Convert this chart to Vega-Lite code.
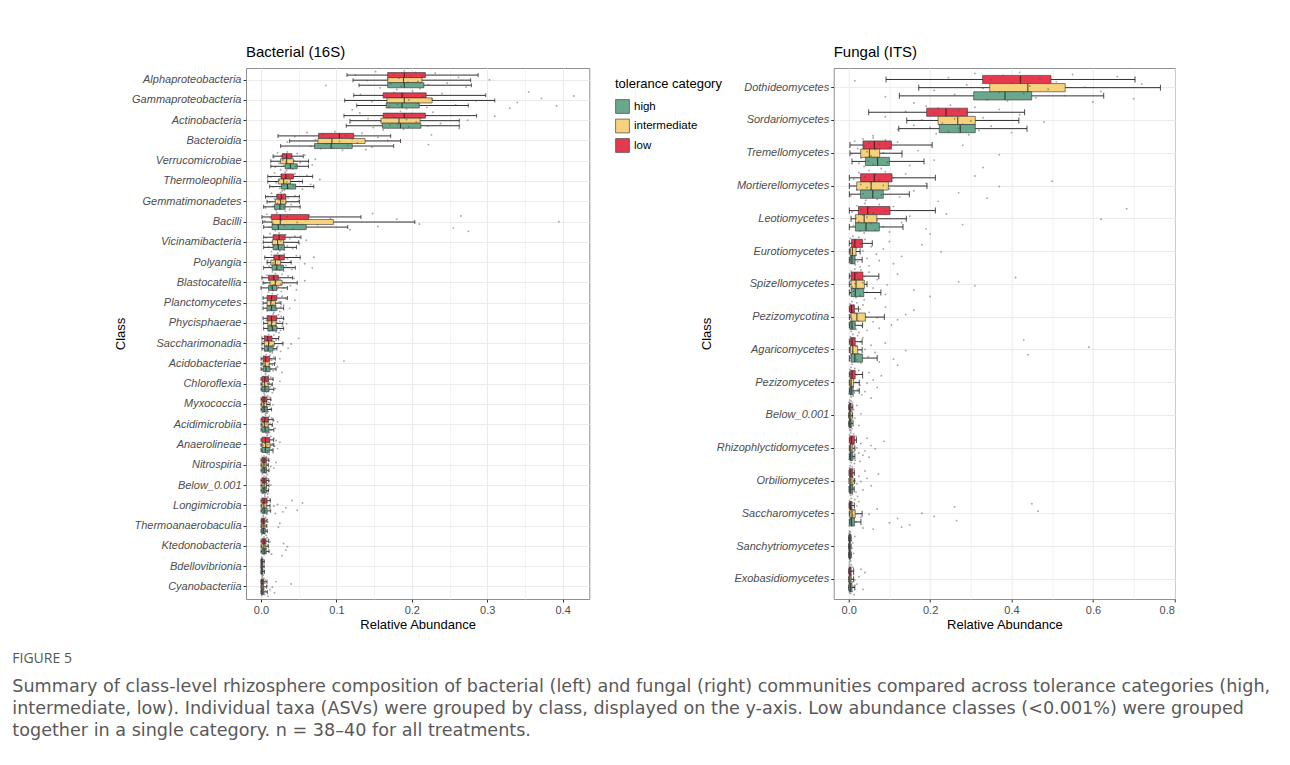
{
  "$schema": "https://vega.github.io/schema/vega-lite/v6.json",
  "background": "white",
  "padding": {"left": 12, "top": 44, "right": 5, "bottom": 5},
  "bounds": "flush",
  "spacing": 243.7,
  "resolve": {"scale": {"color": "independent"}},
  "config": {
    "font": "Liberation Sans",
    "view": {"stroke": "#8f8f8f", "strokeWidth": 1},
    "axis": {"gridColor": "#ebebeb", "gridWidth": 1, "domain": false, "tickColor": "#333", "tickSize": 3, "labelColor": "#4d4d4d", "labelFontSize": 11, "labelPadding": 2, "titleFontSize": 13, "titleFontWeight": "normal", "titleColor": "#000"},
    "title": {"fontSize": 15, "fontWeight": "normal", "anchor": "start", "color": "#000", "offset": 8}
  },
  "title": {
    "text": "FIGURE 5",
    "subtitle": [
      "Summary of class-level rhizosphere composition of bacterial (left) and fungal (right) communities compared across tolerance categories (high,",
      "intermediate, low). Individual taxa (ASVs) were grouped by class, displayed on the y-axis. Low abundance classes (<0.001%) were grouped",
      "together in a single category. n = 38–40 for all treatments."
    ],
    "orient": "bottom", "anchor": "start", "frame": "group", "dx": -233.7, "offset": 20,
    "font": "Open Sans", "fontSize": 14, "fontWeight": "normal", "color": "#555",
    "subtitleFont": "DejaVu Sans", "subtitleFontSize": 17.6, "subtitleColor": "#595959", "subtitleLineHeight": 22, "subtitlePadding": 12
  },
  "datasets": {
    "bs": [
      {"c":"Alphaproteobacteria","t":"low","lo":0.114,"q1":0.168,"md":0.19,"q3":0.218,"hi":0.288},
      {"c":"Alphaproteobacteria","t":"intermediate","lo":0.122,"q1":0.168,"md":0.189,"q3":0.2135,"hi":0.278},
      {"c":"Alphaproteobacteria","t":"high","lo":0.13,"q1":0.168,"md":0.19,"q3":0.216,"hi":0.279},
      {"c":"Gammaproteobacteria","t":"low","lo":0.123,"q1":0.162,"md":0.187,"q3":0.219,"hi":0.298},
      {"c":"Gammaproteobacteria","t":"intermediate","lo":0.111,"q1":0.167,"md":0.19,"q3":0.227,"hi":0.31},
      {"c":"Gammaproteobacteria","t":"high","lo":0.127,"q1":0.166,"md":0.187,"q3":0.21,"hi":0.275},
      {"c":"Actinobacteria","t":"low","lo":0.11,"q1":0.162,"md":0.19,"q3":0.218,"hi":0.286},
      {"c":"Actinobacteria","t":"intermediate","lo":0.118,"q1":0.159,"md":0.183,"q3":0.211,"hi":0.263},
      {"c":"Actinobacteria","t":"high","lo":0.113,"q1":0.161,"md":0.185,"q3":0.212,"hi":0.263},
      {"c":"Bacteroidia","t":"low","lo":0.0225,"q1":0.0764,"md":0.104,"q3":0.123,"hi":0.172},
      {"c":"Bacteroidia","t":"intermediate","lo":0.038,"q1":0.0755,"md":0.094,"q3":0.138,"hi":0.185},
      {"c":"Bacteroidia","t":"high","lo":0.026,"q1":0.071,"md":0.093,"q3":0.121,"hi":0.176},
      {"c":"Verrucomicrobiae","t":"low","lo":0.016,"q1":0.028,"md":0.034,"q3":0.041,"hi":0.056},
      {"c":"Verrucomicrobiae","t":"intermediate","lo":0.013,"q1":0.026,"md":0.034,"q3":0.043,"hi":0.063},
      {"c":"Verrucomicrobiae","t":"high","lo":0.013,"q1":0.032,"md":0.039,"q3":0.048,"hi":0.063},
      {"c":"Thermoleophilia","t":"low","lo":0.009,"q1":0.0265,"md":0.033,"q3":0.043,"hi":0.0685},
      {"c":"Thermoleophilia","t":"intermediate","lo":0.009,"q1":0.023,"md":0.03,"q3":0.039,"hi":0.055},
      {"c":"Thermoleophilia","t":"high","lo":0.0115,"q1":0.027,"md":0.035,"q3":0.046,"hi":0.07},
      {"c":"Gemmatimonadetes","t":"low","lo":0.006,"q1":0.021,"md":0.027,"q3":0.033,"hi":0.051},
      {"c":"Gemmatimonadetes","t":"intermediate","lo":0.008,"q1":0.019,"md":0.026,"q3":0.033,"hi":0.051},
      {"c":"Gemmatimonadetes","t":"high","lo":0.0035,"q1":0.018,"md":0.025,"q3":0.032,"hi":0.052},
      {"c":"Bacilli","t":"low","lo":0.0013,"q1":0.0137,"md":0.0256,"q3":0.0632,"hi":0.1326},
      {"c":"Bacilli","t":"intermediate","lo":0.0022,"q1":0.0146,"md":0.0256,"q3":0.096,"hi":0.204},
      {"c":"Bacilli","t":"high","lo":0.0035,"q1":0.0146,"md":0.023,"q3":0.06,"hi":0.115},
      {"c":"Vicinamibacteria","t":"low","lo":0.0035,"q1":0.016,"md":0.024,"q3":0.032,"hi":0.053},
      {"c":"Vicinamibacteria","t":"intermediate","lo":0.003,"q1":0.015,"md":0.022,"q3":0.03,"hi":0.05},
      {"c":"Vicinamibacteria","t":"high","lo":0.0035,"q1":0.016,"md":0.023,"q3":0.031,"hi":0.047},
      {"c":"Polyangia","t":"low","lo":0.005,"q1":0.017,"md":0.024,"q3":0.031,"hi":0.052},
      {"c":"Polyangia","t":"intermediate","lo":0.008,"q1":0.013,"md":0.019,"q3":0.026,"hi":0.04},
      {"c":"Polyangia","t":"high","lo":0.0035,"q1":0.0146,"md":0.021,"q3":0.03,"hi":0.0455},
      {"c":"Blastocatellia","t":"low","lo":0.0013,"q1":0.01,"md":0.017,"q3":0.023,"hi":0.042},
      {"c":"Blastocatellia","t":"intermediate","lo":0.0027,"q1":0.012,"md":0.019,"q3":0.028,"hi":0.048},
      {"c":"Blastocatellia","t":"high","lo":0.0,"q1":0.01,"md":0.015,"q3":0.021,"hi":0.035},
      {"c":"Planctomycetes","t":"low","lo":0.0027,"q1":0.008,"md":0.014,"q3":0.021,"hi":0.035},
      {"c":"Planctomycetes","t":"intermediate","lo":0.0027,"q1":0.008,"md":0.013,"q3":0.019,"hi":0.0265},
      {"c":"Planctomycetes","t":"high","lo":0.0027,"q1":0.008,"md":0.014,"q3":0.02,"hi":0.03},
      {"c":"Phycisphaerae","t":"low","lo":0.0027,"q1":0.008,"md":0.014,"q3":0.021,"hi":0.03},
      {"c":"Phycisphaerae","t":"intermediate","lo":0.0035,"q1":0.009,"md":0.014,"q3":0.02,"hi":0.029},
      {"c":"Phycisphaerae","t":"high","lo":0.0035,"q1":0.009,"md":0.015,"q3":0.021,"hi":0.03},
      {"c":"Saccharimonadia","t":"low","lo":0.0013,"q1":0.0044,"md":0.009,"q3":0.0146,"hi":0.0234},
      {"c":"Saccharimonadia","t":"intermediate","lo":0.0013,"q1":0.0044,"md":0.01,"q3":0.0177,"hi":0.029},
      {"c":"Saccharimonadia","t":"high","lo":0.0013,"q1":0.0044,"md":0.0095,"q3":0.016,"hi":0.021},
      {"c":"Acidobacteriae","t":"low","lo":0.0,"q1":0.0027,"md":0.006,"q3":0.0115,"hi":0.019},
      {"c":"Acidobacteriae","t":"intermediate","lo":0.0,"q1":0.0025,"md":0.0055,"q3":0.011,"hi":0.018},
      {"c":"Acidobacteriae","t":"high","lo":0.0,"q1":0.003,"md":0.0065,"q3":0.012,"hi":0.02},
      {"c":"Chloroflexia","t":"low","lo":0.0,"q1":0.0013,"md":0.005,"q3":0.01,"hi":0.016},
      {"c":"Chloroflexia","t":"intermediate","lo":0.0,"q1":0.0015,"md":0.0048,"q3":0.0095,"hi":0.015},
      {"c":"Chloroflexia","t":"high","lo":0.0,"q1":0.0013,"md":0.0052,"q3":0.0105,"hi":0.017},
      {"c":"Myxococcia","t":"low","lo":0.0,"q1":0.0013,"md":0.004,"q3":0.008,"hi":0.013},
      {"c":"Myxococcia","t":"intermediate","lo":0.0,"q1":0.0012,"md":0.0038,"q3":0.0075,"hi":0.012},
      {"c":"Myxococcia","t":"high","lo":0.0,"q1":0.0014,"md":0.0042,"q3":0.0085,"hi":0.014},
      {"c":"Acidimicrobiia","t":"low","lo":0.0,"q1":0.0013,"md":0.005,"q3":0.01,"hi":0.016},
      {"c":"Acidimicrobiia","t":"intermediate","lo":0.0,"q1":0.0012,"md":0.0045,"q3":0.0095,"hi":0.015},
      {"c":"Acidimicrobiia","t":"high","lo":0.0,"q1":0.0015,"md":0.0055,"q3":0.0105,"hi":0.017},
      {"c":"Anaerolineae","t":"low","lo":0.0,"q1":0.0013,"md":0.006,"q3":0.0115,"hi":0.0168},
      {"c":"Anaerolineae","t":"intermediate","lo":0.0,"q1":0.0015,"md":0.0062,"q3":0.012,"hi":0.017},
      {"c":"Anaerolineae","t":"high","lo":0.0,"q1":0.0013,"md":0.0058,"q3":0.011,"hi":0.016},
      {"c":"Nitrospiria","t":"low","lo":0.0,"q1":0.0013,"md":0.004,"q3":0.0071,"hi":0.0102},
      {"c":"Nitrospiria","t":"intermediate","lo":0.0,"q1":0.0012,"md":0.0038,"q3":0.0068,"hi":0.0098},
      {"c":"Nitrospiria","t":"high","lo":0.0,"q1":0.0014,"md":0.0042,"q3":0.0074,"hi":0.0106},
      {"c":"Below_0.001","t":"low","lo":0.0,"q1":0.0013,"md":0.004,"q3":0.0071,"hi":0.0102},
      {"c":"Below_0.001","t":"intermediate","lo":0.0,"q1":0.0014,"md":0.0041,"q3":0.0073,"hi":0.0105},
      {"c":"Below_0.001","t":"high","lo":0.0,"q1":0.0012,"md":0.0039,"q3":0.007,"hi":0.01},
      {"c":"Longimicrobia","t":"low","lo":0.0,"q1":0.0013,"md":0.004,"q3":0.008,"hi":0.0124},
      {"c":"Longimicrobia","t":"intermediate","lo":0.0,"q1":0.0012,"md":0.0038,"q3":0.0076,"hi":0.012},
      {"c":"Longimicrobia","t":"high","lo":0.0,"q1":0.0014,"md":0.0042,"q3":0.0082,"hi":0.0128},
      {"c":"Thermoanaerobaculia","t":"low","lo":0.0,"q1":0.0009,"md":0.003,"q3":0.0053,"hi":0.008},
      {"c":"Thermoanaerobaculia","t":"intermediate","lo":0.0,"q1":0.0008,"md":0.0028,"q3":0.005,"hi":0.0077},
      {"c":"Thermoanaerobaculia","t":"high","lo":0.0,"q1":0.001,"md":0.0031,"q3":0.0055,"hi":0.0083},
      {"c":"Ktedonobacteria","t":"low","lo":0.0,"q1":0.0013,"md":0.004,"q3":0.0066,"hi":0.0102},
      {"c":"Ktedonobacteria","t":"intermediate","lo":0.0,"q1":0.0012,"md":0.0038,"q3":0.0063,"hi":0.0098},
      {"c":"Ktedonobacteria","t":"high","lo":0.0,"q1":0.0014,"md":0.0042,"q3":0.0069,"hi":0.0106},
      {"c":"Bdellovibrionia","t":"low","lo":0.0,"q1":0.0002,"md":0.001,"q3":0.0022,"hi":0.0044},
      {"c":"Bdellovibrionia","t":"intermediate","lo":0.0,"q1":0.0002,"md":0.0009,"q3":0.002,"hi":0.0042},
      {"c":"Bdellovibrionia","t":"high","lo":0.0,"q1":0.0003,"md":0.0011,"q3":0.0024,"hi":0.0046},
      {"c":"Cyanobacteriia","t":"low","lo":0.0,"q1":0.0002,"md":0.0015,"q3":0.0035,"hi":0.008},
      {"c":"Cyanobacteriia","t":"intermediate","lo":0.0,"q1":0.0002,"md":0.0014,"q3":0.0033,"hi":0.0076},
      {"c":"Cyanobacteriia","t":"high","lo":0.0,"q1":0.0003,"md":0.0016,"q3":0.0037,"hi":0.0084}
    ],
    "bp": [
      {"c":"Alphaproteobacteria","v":[0.19,0.152,0.205,0.231,0.176,0.125,0.214,0.199,0.262,0.183,0.168,0.303,0.141,0.208,0.195,0.247,0.172,0.222,0.086,0.186,0.272,0.158,0.211,0.18]},
      {"c":"Gammaproteobacteria","v":[0.201,0.355,0.176,0.24,0.132,0.188,0.415,0.215,0.163,0.372,0.227,0.196,0.285,0.147,0.34,0.208,0.181,0.258,0.392,0.17,0.22,0.33,0.193,0.121]},
      {"c":"Actinobacteria","v":[0.185,0.228,0.131,0.2,0.167,0.252,0.31,0.176,0.212,0.142,0.193,0.274,0.159,0.206,0.118,0.238,0.181,0.171,0.221,0.196,0.149,0.263,0.189,0.162]},
      {"c":"Bacteroidia","v":[0.098,0.061,0.134,0.082,0.226,0.112,0.045,0.155,0.091,0.121,0.072,0.168,0.104,0.035,0.128,0.087,0.222,0.115,0.066,0.147,0.095,0.079,0.139,0.108]},
      {"c":"Verrucomicrobiae","v":[0.035,0.022,0.048,0.031,0.058,0.027,0.041,0.017,0.038,0.072,0.029,0.044,0.033,0.052,0.024,0.039,0.068,0.03,0.046,0.019,0.036,0.042,0.026,0.034]},
      {"c":"Thermoleophilia","v":[0.032,0.018,0.045,0.027,0.061,0.036,0.013,0.041,0.029,0.078,0.024,0.05,0.034,0.02,0.039,0.066,0.03,0.043,0.016,0.037,0.025,0.055,0.031,0.028]},
      {"c":"Gemmatimonadetes","v":[0.026,0.014,0.031,0.021,0.045,0.009,0.028,0.036,0.018,0.024,0.05,0.029,0.012,0.033,0.022,0.04,0.027,0.016,0.03,0.006,0.025,0.038,0.02,0.032]},
      {"c":"Bacilli","v":[0.021,0.148,0.008,0.064,0.265,0.035,0.012,0.092,0.18,0.027,0.005,0.395,0.048,0.016,0.21,0.075,0.031,0.155,0.011,0.255,0.042,0.118,0.019,0.275]},
      {"c":"Vicinamibacteria","v":[0.024,0.012,0.033,0.019,0.045,0.028,0.007,0.038,0.021,0.06,0.026,0.015,0.03,0.051,0.022,0.017,0.035,0.01,0.027,0.042,0.02,0.031,0.025,0.014]},
      {"c":"Polyangia","v":[0.022,0.031,0.014,0.047,0.026,0.07,0.018,0.035,0.024,0.009,0.039,0.028,0.016,0.058,0.021,0.033,0.011,0.027,0.068,0.02,0.041,0.025,0.03,0.015]},
      {"c":"Blastocatellia","v":[0.019,0.028,0.008,0.036,0.022,0.015,0.044,0.025,0.011,0.058,0.02,0.031,0.005,0.026,0.017,0.039,0.023,0.013,0.03,0.021,0.047,0.016,0.027,0.01]},
      {"c":"Planctomycetes","v":[0.015,0.022,0.009,0.028,0.017,0.012,0.033,0.019,0.045,0.014,0.024,0.006,0.02,0.016,0.03,0.011,0.026,0.018,0.038,0.013,0.021,0.008,0.025,0.017]},
      {"c":"Phycisphaerae","v":[0.016,0.023,0.01,0.027,0.018,0.013,0.03,0.02,0.007,0.025,0.015,0.021,0.034,0.012,0.019,0.028,0.014,0.022,0.009,0.017,0.026,0.011,0.02,0.024]},
      {"c":"Saccharimonadia","v":[0.01,0.017,0.005,0.024,0.012,0.05,0.008,0.02,0.014,0.003,0.029,0.011,0.04,0.016,0.007,0.022,0.013,0.036,0.009,0.018,0.006,0.026,0.012,0.015]},
      {"c":"Acidobacteriae","v":[0.007,0.012,0.004,0.017,0.009,0.025,0.006,0.014,0.11,0.008,0.019,0.003,0.011,0.015,0.005,0.022,0.01,0.007,0.013,0.002,0.016,0.009,0.028,0.006]},
      {"c":"Chloroflexia","v":[0.006,0.01,0.003,0.013,0.008,0.005,0.016,0.007,0.025,0.004,0.011,0.009,0.002,0.014,0.006,0.012,0.005,0.019,0.008,0.003,0.01,0.007,0.015,0.004]},
      {"c":"Myxococcia","v":[0.005,0.009,0.003,0.011,0.006,0.004,0.013,0.007,0.002,0.01,0.005,0.008,0.016,0.004,0.009,0.006,0.003,0.012,0.007,0.005,0.01,0.002,0.008,0.006]},
      {"c":"Acidimicrobiia","v":[0.006,0.011,0.003,0.014,0.008,0.005,0.017,0.009,0.022,0.004,0.012,0.007,0.002,0.015,0.006,0.01,0.019,0.005,0.013,0.008,0.003,0.011,0.007,0.009]},
      {"c":"Anaerolineae","v":[0.008,0.013,0.004,0.017,0.01,0.006,0.02,0.011,0.025,0.005,0.015,0.009,0.003,0.018,0.007,0.012,0.022,0.006,0.014,0.009,0.002,0.016,0.008,0.011]},
      {"c":"Nitrospiria","v":[0.004,0.007,0.002,0.009,0.005,0.003,0.011,0.006,0.02,0.004,0.008,0.005,0.002,0.013,0.006,0.017,0.003,0.007,0.005,0.01,0.004,0.006,0.002,0.008]},
      {"c":"Below_0.001","v":[0.004,0.007,0.002,0.009,0.005,0.003,0.011,0.006,0.004,0.008,0.005,0.013,0.002,0.007,0.006,0.003,0.01,0.005,0.004,0.008,0.006,0.002,0.009,0.005]},
      {"c":"Longimicrobia","v":[0.005,0.009,0.002,0.012,0.006,0.041,0.004,0.008,0.055,0.003,0.022,0.007,0.017,0.005,0.033,0.011,0.002,0.048,0.006,0.029,0.004,0.019,0.008,0.003]},
      {"c":"Thermoanaerobaculia","v":[0.003,0.006,0.001,0.008,0.004,0.002,0.009,0.005,0.025,0.003,0.007,0.004,0.001,0.023,0.005,0.002,0.006,0.003,0.008,0.004,0.002,0.005,0.001,0.007]},
      {"c":"Ktedonobacteria","v":[0.004,0.008,0.002,0.01,0.005,0.003,0.012,0.006,0.03,0.004,0.009,0.005,0.035,0.002,0.007,0.005,0.033,0.003,0.011,0.006,0.002,0.014,0.004,0.028]},
      {"c":"Bdellovibrionia","v":[0.001,0.002,0.0005,0.003,0.0015,0.001,0.004,0.002,0.0008,0.0025,0.001,0.0018,0.0035,0.0006,0.0012,0.0022,0.0009,0.0028,0.0014,0.0004,0.0019,0.001,0.0031,0.0016]},
      {"c":"Cyanobacteriia","v":[0.002,0.004,0.001,0.006,0.003,0.02,0.002,0.005,0.04,0.001,0.008,0.003,0.015,0.002,0.004,0.012,0.001,0.006,0.003,0.018,0.002,0.005,0.001,0.009]}
    ],
    "fs": [
      {"c":"Dothideomycetes","t":"low","lo":0.0917,"q1":0.329,"md":0.422,"q3":0.497,"hi":0.7035},
      {"c":"Dothideomycetes","t":"intermediate","lo":0.172,"q1":0.3465,"md":0.44,"q3":0.532,"hi":0.766},
      {"c":"Dothideomycetes","t":"high","lo":0.1245,"q1":0.307,"md":0.384,"q3":0.4496,"hi":0.6265},
      {"c":"Sordariomycetes","t":"low","lo":0.049,"q1":0.1915,"md":0.239,"q3":0.292,"hi":0.432},
      {"c":"Sordariomycetes","t":"intermediate","lo":0.1425,"q1":0.2195,"md":0.268,"q3":0.311,"hi":0.418},
      {"c":"Sordariomycetes","t":"high","lo":0.123,"q1":0.2225,"md":0.274,"q3":0.311,"hi":0.438},
      {"c":"Tremellomycetes","t":"low","lo":0.003,"q1":0.035,"md":0.063,"q3":0.105,"hi":0.205},
      {"c":"Tremellomycetes","t":"intermediate","lo":0.003,"q1":0.0294,"md":0.051,"q3":0.076,"hi":0.131},
      {"c":"Tremellomycetes","t":"high","lo":0.008,"q1":0.041,"md":0.071,"q3":0.1,"hi":0.185},
      {"c":"Mortierellomycetes","t":"low","lo":0.0016,"q1":0.029,"md":0.063,"q3":0.1065,"hi":0.213},
      {"c":"Mortierellomycetes","t":"intermediate","lo":0.0016,"q1":0.0196,"md":0.055,"q3":0.0974,"hi":0.1924},
      {"c":"Mortierellomycetes","t":"high","lo":0.0016,"q1":0.029,"md":0.059,"q3":0.085,"hi":0.149},
      {"c":"Leotiomycetes","t":"low","lo":0.0016,"q1":0.0237,"md":0.0466,"q3":0.1015,"hi":0.213},
      {"c":"Leotiomycetes","t":"intermediate","lo":0.0057,"q1":0.0164,"md":0.038,"q3":0.069,"hi":0.1416},
      {"c":"Leotiomycetes","t":"high","lo":0.0016,"q1":0.0164,"md":0.0425,"q3":0.0753,"hi":0.1334},
      {"c":"Eurotiomycetes","t":"low","lo":0.0016,"q1":0.007,"md":0.015,"q3":0.034,"hi":0.058},
      {"c":"Eurotiomycetes","t":"intermediate","lo":0.0016,"q1":0.004,"md":0.009,"q3":0.018,"hi":0.028},
      {"c":"Eurotiomycetes","t":"high","lo":0.0016,"q1":0.004,"md":0.008,"q3":0.0156,"hi":0.033},
      {"c":"Spizellomycetes","t":"low","lo":0.0016,"q1":0.0057,"md":0.015,"q3":0.035,"hi":0.074},
      {"c":"Spizellomycetes","t":"intermediate","lo":0.0016,"q1":0.0057,"md":0.018,"q3":0.0385,"hi":0.045},
      {"c":"Spizellomycetes","t":"high","lo":0.0016,"q1":0.0057,"md":0.016,"q3":0.037,"hi":0.079},
      {"c":"Pezizomycotina","t":"low","lo":0.0016,"q1":0.003,"md":0.007,"q3":0.014,"hi":0.024},
      {"c":"Pezizomycotina","t":"intermediate","lo":0.0016,"q1":0.0057,"md":0.02,"q3":0.041,"hi":0.0876},
      {"c":"Pezizomycotina","t":"high","lo":0.0016,"q1":0.003,"md":0.008,"q3":0.016,"hi":0.034},
      {"c":"Agaricomycetes","t":"low","lo":0.0016,"q1":0.004,"md":0.008,"q3":0.016,"hi":0.033},
      {"c":"Agaricomycetes","t":"intermediate","lo":0.0016,"q1":0.004,"md":0.01,"q3":0.022,"hi":0.033},
      {"c":"Agaricomycetes","t":"high","lo":0.0016,"q1":0.0057,"md":0.015,"q3":0.034,"hi":0.07},
      {"c":"Pezizomycetes","t":"low","lo":0.0016,"q1":0.004,"md":0.008,"q3":0.016,"hi":0.034},
      {"c":"Pezizomycetes","t":"intermediate","lo":0.0016,"q1":0.003,"md":0.006,"q3":0.012,"hi":0.026},
      {"c":"Pezizomycetes","t":"high","lo":0.0016,"q1":0.003,"md":0.006,"q3":0.011,"hi":0.026},
      {"c":"Below_0.001","t":"low","lo":0.0,"q1":0.0016,"md":0.003,"q3":0.006,"hi":0.01},
      {"c":"Below_0.001","t":"intermediate","lo":0.0,"q1":0.0015,"md":0.0028,"q3":0.0058,"hi":0.0095},
      {"c":"Below_0.001","t":"high","lo":0.0,"q1":0.0017,"md":0.0032,"q3":0.0062,"hi":0.0105},
      {"c":"Rhizophlyctidomycetes","t":"low","lo":0.0016,"q1":0.003,"md":0.007,"q3":0.014,"hi":0.019},
      {"c":"Rhizophlyctidomycetes","t":"intermediate","lo":0.0016,"q1":0.003,"md":0.005,"q3":0.01,"hi":0.015},
      {"c":"Rhizophlyctidomycetes","t":"high","lo":0.0016,"q1":0.003,"md":0.005,"q3":0.01,"hi":0.015},
      {"c":"Orbiliomycetes","t":"low","lo":0.0008,"q1":0.002,"md":0.005,"q3":0.01,"hi":0.014},
      {"c":"Orbiliomycetes","t":"intermediate","lo":0.0008,"q1":0.0022,"md":0.0052,"q3":0.0105,"hi":0.0145},
      {"c":"Orbiliomycetes","t":"high","lo":0.0008,"q1":0.0019,"md":0.0048,"q3":0.0095,"hi":0.0135},
      {"c":"Saccharomycetes","t":"low","lo":0.0008,"q1":0.002,"md":0.004,"q3":0.008,"hi":0.014},
      {"c":"Saccharomycetes","t":"intermediate","lo":0.0016,"q1":0.003,"md":0.008,"q3":0.016,"hi":0.033},
      {"c":"Saccharomycetes","t":"high","lo":0.0016,"q1":0.003,"md":0.007,"q3":0.014,"hi":0.03},
      {"c":"Sanchytriomycetes","t":"low","lo":0.0,"q1":0.001,"md":0.002,"q3":0.004,"hi":0.006},
      {"c":"Sanchytriomycetes","t":"intermediate","lo":0.0,"q1":0.0009,"md":0.0019,"q3":0.0038,"hi":0.0057},
      {"c":"Sanchytriomycetes","t":"high","lo":0.0,"q1":0.0011,"md":0.0021,"q3":0.0042,"hi":0.0063},
      {"c":"Exobasidiomycetes","t":"low","lo":0.0,"q1":0.001,"md":0.003,"q3":0.006,"hi":0.012},
      {"c":"Exobasidiomycetes","t":"intermediate","lo":0.0,"q1":0.001,"md":0.003,"q3":0.006,"hi":0.012},
      {"c":"Exobasidiomycetes","t":"high","lo":0.0,"q1":0.001,"md":0.004,"q3":0.008,"hi":0.015}
    ],
    "fp": [
      {"c":"Dothideomycetes","v":[0.42,0.31,0.55,0.38,0.66,0.245,0.47,0.35,0.015,0.51,0.4,0.72,0.29,0.445,0.58,0.33,0.49,0.21,0.62,0.37,0.43,0.26,0.53,0.09,0.46,0.7,0.34,0.39,0.6,0.16]},
      {"c":"Sordariomycetes","v":[0.25,0.19,0.31,0.22,0.37,0.27,0.14,0.29,0.21,0.42,0.24,0.09,0.33,0.26,0.18,0.3,0.48,0.23,0.28,0.16,0.35,0.2,0.27,0.12,0.32,0.245,0.4,0.215,0.295,0.06]},
      {"c":"Tremellomycetes","v":[0.06,0.035,0.09,0.015,0.12,0.05,0.075,0.28,0.04,0.1,0.022,0.065,0.17,0.045,0.085,0.008,0.37,0.055,0.13,0.03,0.07,0.21,0.048,0.095,0.025,0.06,0.15,0.038,0.33,0.08]},
      {"c":"Mortierellomycetes","v":[0.05,0.09,0.025,0.14,0.065,0.31,0.04,0.11,0.012,0.075,0.5,0.055,0.19,0.03,0.085,0.37,0.045,0.1,0.02,0.16,0.06,0.27,0.035,0.08,0.005,0.125,0.34,0.07,0.042,0.22]},
      {"c":"Leotiomycetes","v":[0.04,0.075,0.02,0.11,0.05,0.683,0.03,0.09,0.008,0.06,0.24,0.035,0.15,0.045,0.018,0.62,0.07,0.025,0.13,0.055,0.28,0.012,0.085,0.042,0.19,0.065,0.028,0.1,0.038,0.2]},
      {"c":"Eurotiomycetes","v":[0.01,0.025,0.004,0.04,0.015,0.1,0.007,0.03,0.18,0.012,0.055,0.02,0.085,0.003,0.035,0.227,0.009,0.068,0.018,0.13,0.006,0.045,0.014,0.075,0.022,0.002,0.11,0.016,0.05,0.028]},
      {"c":"Spizellomycetes","v":[0.015,0.03,0.006,0.05,0.02,0.12,0.01,0.04,0.41,0.025,0.07,0.004,0.27,0.035,0.016,0.095,0.31,0.008,0.06,0.022,0.16,0.012,0.045,0.003,0.09,0.028,0.2,0.018,0.065,0.038]},
      {"c":"Pezizomycotina","v":[0.008,0.02,0.003,0.035,0.012,0.09,0.005,0.028,0.16,0.01,0.05,0.016,0.14,0.004,0.042,0.07,0.007,0.12,0.024,0.06,0.002,0.015,0.105,0.032,0.009,0.075,0.018,0.045,0.006,0.025]},
      {"c":"Agaricomycetes","v":[0.01,0.022,0.004,0.035,0.014,0.43,0.007,0.028,0.09,0.012,0.055,0.018,0.59,0.003,0.04,0.14,0.009,0.065,0.025,0.44,0.006,0.048,0.016,0.11,0.02,0.002,0.075,0.03,0.008,0.12]},
      {"c":"Pezizomycetes","v":[0.006,0.015,0.003,0.025,0.009,0.05,0.004,0.02,0.08,0.007,0.034,0.012,0.06,0.002,0.018,0.045,0.005,0.028,0.01,0.07,0.003,0.022,0.008,0.04,0.014,0.001,0.032,0.011,0.006,0.055]},
      {"c":"Below_0.001","v":[0.003,0.006,0.001,0.009,0.004,0.02,0.002,0.007,0.005,0.012,0.003,0.008,0.001,0.03,0.004,0.006,0.002,0.015,0.005,0.01,0.003,0.007,0.001,0.004,0.025,0.006,0.002,0.008,0.003,0.005]},
      {"c":"Rhizophlyctidomycetes","v":[0.005,0.012,0.002,0.018,0.008,0.045,0.003,0.015,0.087,0.006,0.03,0.01,0.055,0.004,0.02,0.065,0.007,0.04,0.013,0.025,0.002,0.035,0.009,0.05,0.011,0.001,0.016,0.028,0.006,0.014]},
      {"c":"Orbiliomycetes","v":[0.004,0.009,0.002,0.013,0.006,0.04,0.003,0.011,0.073,0.005,0.025,0.008,0.045,0.002,0.015,0.03,0.006,0.02,0.01,0.055,0.001,0.012,0.007,0.035,0.004,0.018,0.003,0.009,0.005,0.022]},
      {"c":"Saccharomycetes","v":[0.006,0.015,0.002,0.025,0.009,0.45,0.004,0.02,0.26,0.007,0.07,0.012,0.465,0.003,0.18,0.05,0.01,0.21,0.03,0.12,0.005,0.265,0.018,0.1,0.008,0.15,0.001,0.13,0.035,0.06]},
      {"c":"Sanchytriomycetes","v":[0.002,0.004,0.001,0.005,0.003,0.015,0.001,0.004,0.002,0.006,0.003,0.01,0.001,0.005,0.002,0.004,0.008,0.003,0.001,0.005,0.002,0.012,0.003,0.004,0.001,0.006,0.002,0.003,0.005,0.002]},
      {"c":"Exobasidiomycetes","v":[0.002,0.006,0.001,0.01,0.004,0.03,0.002,0.008,0.04,0.003,0.012,0.005,0.025,0.001,0.007,0.015,0.003,0.009,0.002,0.02,0.004,0.011,0.001,0.006,0.035,0.003,0.008,0.002,0.005,0.013]}
    ]
  },
  "hconcat": [
    {
      "title": {"text": "Bacterial (16S)", "frame": "group"},
      "width": 343.3,
      "height": 531,
      "resolve": {"scale": {"yOffset": "independent"}},
      "encoding": {
        "y": {"field": "c", "type": "nominal", "title": "Class",
          "sort": ["Alphaproteobacteria","Gammaproteobacteria","Actinobacteria","Bacteroidia","Verrucomicrobiae","Thermoleophilia","Gemmatimonadetes","Bacilli","Vicinamibacteria","Polyangia","Blastocatellia","Planctomycetes","Phycisphaerae","Saccharimonadia","Acidobacteriae","Chloroflexia","Myxococcia","Acidimicrobiia","Anaerolineae","Nitrospiria","Below_0.001","Longimicrobia","Thermoanaerobaculia","Ktedonobacteria","Bdellovibrionia","Cyanobacteriia"],
          "scale": {"paddingInner": 0, "paddingOuter": 0.1},
          "axis": {"labelFontStyle": "italic", "labelLimit": 0, "titlePadding": 4, "grid": true}
        }
      },
      "layer": [
        {
          "data": {"name": "bs"},
          "mark": {"type": "rule", "color": "#1a1a1a", "strokeWidth": 0.9},
          "encoding": {
            "x": {"field": "lo", "type": "quantitative", "title": "Relative Abundance",
              "scale": {"domain": [-0.0199, 0.4354], "nice": false, "zero": false},
              "axis": {"values": [0,0.05,0.1,0.15,0.2,0.25,0.3,0.35,0.4], "labelExpr": "abs(datum.value*10-round(datum.value*10))<0.001 ? format(datum.value,'.1f') : ''", "gridWidth": {"condition": {"test": "abs(datum.value*10-round(datum.value*10))>0.001", "value": 0.6}, "value": 1}, "tickOpacity": {"condition": {"test": "abs(datum.value*10-round(datum.value*10))>0.001", "value": 0}, "value": 1}, "titlePadding": 3}},
            "x2": {"field": "hi"},
            "yOffset": {"field": "t", "type": "nominal", "scale": {"domain": ["low","intermediate","high"], "paddingInner": 0, "paddingOuter": 0.5}}
          }
        },
        {
          "data": {"name": "bs"},
          "mark": {"type": "tick", "size": 4, "thickness": 1, "color": "#1a1a1a"},
          "encoding": {
            "x": {"field": "lo", "type": "quantitative", "title": "Relative Abundance",
              "scale": {"domain": [-0.0199, 0.4354], "nice": false, "zero": false},
              "axis": {"values": [0,0.05,0.1,0.15,0.2,0.25,0.3,0.35,0.4], "labelExpr": "abs(datum.value*10-round(datum.value*10))<0.001 ? format(datum.value,'.1f') : ''", "gridWidth": {"condition": {"test": "abs(datum.value*10-round(datum.value*10))>0.001", "value": 0.6}, "value": 1}, "tickOpacity": {"condition": {"test": "abs(datum.value*10-round(datum.value*10))>0.001", "value": 0}, "value": 1}, "titlePadding": 3}},
            "yOffset": {"field": "t", "type": "nominal", "scale": {"domain": ["low","intermediate","high"], "paddingInner": 0, "paddingOuter": 0.5}}
          }
        },
        {
          "data": {"name": "bs"},
          "mark": {"type": "tick", "size": 4, "thickness": 1, "color": "#1a1a1a"},
          "encoding": {
            "x": {"field": "hi", "type": "quantitative", "title": "Relative Abundance",
              "scale": {"domain": [-0.0199, 0.4354], "nice": false, "zero": false},
              "axis": {"values": [0,0.05,0.1,0.15,0.2,0.25,0.3,0.35,0.4], "labelExpr": "abs(datum.value*10-round(datum.value*10))<0.001 ? format(datum.value,'.1f') : ''", "gridWidth": {"condition": {"test": "abs(datum.value*10-round(datum.value*10))>0.001", "value": 0.6}, "value": 1}, "tickOpacity": {"condition": {"test": "abs(datum.value*10-round(datum.value*10))>0.001", "value": 0}, "value": 1}, "titlePadding": 3}},
            "yOffset": {"field": "t", "type": "nominal", "scale": {"domain": ["low","intermediate","high"], "paddingInner": 0, "paddingOuter": 0.5}}
          }
        },
        {
          "data": {"name": "bs"},
          "mark": {"type": "bar", "stroke": "#333", "strokeWidth": 0.6},
          "encoding": {
            "x": {"field": "q1", "type": "quantitative", "title": "Relative Abundance",
              "scale": {"domain": [-0.0199, 0.4354], "nice": false, "zero": false},
              "axis": {"values": [0,0.05,0.1,0.15,0.2,0.25,0.3,0.35,0.4], "labelExpr": "abs(datum.value*10-round(datum.value*10))<0.001 ? format(datum.value,'.1f') : ''", "gridWidth": {"condition": {"test": "abs(datum.value*10-round(datum.value*10))>0.001", "value": 0.6}, "value": 1}, "tickOpacity": {"condition": {"test": "abs(datum.value*10-round(datum.value*10))>0.001", "value": 0}, "value": 1}, "titlePadding": 3}},
            "x2": {"field": "q3"},
            "yOffset": {"field": "t", "type": "nominal", "scale": {"domain": ["low","intermediate","high"], "paddingInner": 0, "paddingOuter": 0.5}},
            "color": {"field": "t", "type": "nominal",
              "scale": {"domain": ["high","intermediate","low"], "range": ["#6aa88e","#f6d27c","#e6394f"]},
              "legend": {"title": "tolerance category", "orient": "right", "offset": 15, "symbolType": "square", "symbolSize": 190, "symbolStrokeColor": "#444", "symbolStrokeWidth": 0.7, "labelFontSize": 11.5, "labelColor": "#000", "titleFontSize": 13, "titleFontWeight": "normal", "titleColor": "#000", "rowPadding": 2.5, "titlePadding": 8, "padding": 10}}
          }
        },
        {
          "data": {"name": "bs"},
          "mark": {"type": "tick", "size": 5, "thickness": 1.2, "color": "#1a1a1a"},
          "encoding": {
            "x": {"field": "md", "type": "quantitative", "title": "Relative Abundance",
              "scale": {"domain": [-0.0199, 0.4354], "nice": false, "zero": false},
              "axis": {"values": [0,0.05,0.1,0.15,0.2,0.25,0.3,0.35,0.4], "labelExpr": "abs(datum.value*10-round(datum.value*10))<0.001 ? format(datum.value,'.1f') : ''", "gridWidth": {"condition": {"test": "abs(datum.value*10-round(datum.value*10))>0.001", "value": 0.6}, "value": 1}, "tickOpacity": {"condition": {"test": "abs(datum.value*10-round(datum.value*10))>0.001", "value": 0}, "value": 1}, "titlePadding": 3}},
            "yOffset": {"field": "t", "type": "nominal", "scale": {"domain": ["low","intermediate","high"], "paddingInner": 0, "paddingOuter": 0.5}}
          }
        },
        {
          "data": {"name": "bp"},
          "transform": [{"flatten": ["v"]}, {"window": [{"op": "row_number", "as": "k"}], "groupby": ["c"]}],
          "mark": {"type": "circle", "size": 3.5, "color": "#4d4d4d", "opacity": 0.5},
          "encoding": {
            "x": {"field": "v", "type": "quantitative", "title": "Relative Abundance",
              "scale": {"domain": [-0.0199, 0.4354], "nice": false, "zero": false},
              "axis": {"values": [0,0.05,0.1,0.15,0.2,0.25,0.3,0.35,0.4], "labelExpr": "abs(datum.value*10-round(datum.value*10))<0.001 ? format(datum.value,'.1f') : ''", "gridWidth": {"condition": {"test": "abs(datum.value*10-round(datum.value*10))>0.001", "value": 0.6}, "value": 1}, "tickOpacity": {"condition": {"test": "abs(datum.value*10-round(datum.value*10))>0.001", "value": 0}, "value": 1}, "titlePadding": 3}},
            "yOffset": {"field": "k", "type": "nominal", "scale": {"paddingInner": 0, "paddingOuter": 2.4}}
          }
        }
      ]
    },
    {
      "title": {"text": "Fungal (ITS)", "frame": "group"},
      "width": 341.3,
      "height": 531,
      "resolve": {"scale": {"yOffset": "independent"}},
      "encoding": {
        "y": {"field": "c", "type": "nominal", "title": "Class",
          "sort": ["Dothideomycetes","Sordariomycetes","Tremellomycetes","Mortierellomycetes","Leotiomycetes","Eurotiomycetes","Spizellomycetes","Pezizomycotina","Agaricomycetes","Pezizomycetes","Below_0.001","Rhizophlyctidomycetes","Orbiliomycetes","Saccharomycetes","Sanchytriomycetes","Exobasidiomycetes"],
          "scale": {"paddingInner": 0, "paddingOuter": 0.1},
          "axis": {"labelFontStyle": "italic", "labelLimit": 0, "titlePadding": 3, "grid": true}
        }
      },
      "layer": [
        {
          "data": {"name": "fs"},
          "mark": {"type": "rule", "color": "#1a1a1a", "strokeWidth": 0.9},
          "encoding": {
            "x": {"field": "lo", "type": "quantitative", "title": "Relative Abundance",
              "scale": {"domain": [-0.0369, 0.8017], "nice": false, "zero": false},
              "axis": {"values": [0,0.1,0.2,0.3,0.4,0.5,0.6,0.7,0.8], "labelExpr": "abs(datum.value*5-round(datum.value*5))<0.001 ? format(datum.value,'.1f') : ''", "gridWidth": {"condition": {"test": "abs(datum.value*5-round(datum.value*5))>0.001", "value": 0.6}, "value": 1}, "tickOpacity": {"condition": {"test": "abs(datum.value*5-round(datum.value*5))>0.001", "value": 0}, "value": 1}, "titlePadding": 3}},
            "x2": {"field": "hi"},
            "yOffset": {"field": "t", "type": "nominal", "scale": {"domain": ["low","intermediate","high"], "paddingInner": 0, "paddingOuter": 0.5}}
          }
        },
        {
          "data": {"name": "fs"},
          "mark": {"type": "tick", "size": 6, "thickness": 1.1, "color": "#1a1a1a"},
          "encoding": {
            "x": {"field": "lo", "type": "quantitative", "title": "Relative Abundance",
              "scale": {"domain": [-0.0369, 0.8017], "nice": false, "zero": false},
              "axis": {"values": [0,0.1,0.2,0.3,0.4,0.5,0.6,0.7,0.8], "labelExpr": "abs(datum.value*5-round(datum.value*5))<0.001 ? format(datum.value,'.1f') : ''", "gridWidth": {"condition": {"test": "abs(datum.value*5-round(datum.value*5))>0.001", "value": 0.6}, "value": 1}, "tickOpacity": {"condition": {"test": "abs(datum.value*5-round(datum.value*5))>0.001", "value": 0}, "value": 1}, "titlePadding": 3}},
            "yOffset": {"field": "t", "type": "nominal", "scale": {"domain": ["low","intermediate","high"], "paddingInner": 0, "paddingOuter": 0.5}}
          }
        },
        {
          "data": {"name": "fs"},
          "mark": {"type": "tick", "size": 6, "thickness": 1.1, "color": "#1a1a1a"},
          "encoding": {
            "x": {"field": "hi", "type": "quantitative", "title": "Relative Abundance",
              "scale": {"domain": [-0.0369, 0.8017], "nice": false, "zero": false},
              "axis": {"values": [0,0.1,0.2,0.3,0.4,0.5,0.6,0.7,0.8], "labelExpr": "abs(datum.value*5-round(datum.value*5))<0.001 ? format(datum.value,'.1f') : ''", "gridWidth": {"condition": {"test": "abs(datum.value*5-round(datum.value*5))>0.001", "value": 0.6}, "value": 1}, "tickOpacity": {"condition": {"test": "abs(datum.value*5-round(datum.value*5))>0.001", "value": 0}, "value": 1}, "titlePadding": 3}},
            "yOffset": {"field": "t", "type": "nominal", "scale": {"domain": ["low","intermediate","high"], "paddingInner": 0, "paddingOuter": 0.5}}
          }
        },
        {
          "data": {"name": "fs"},
          "mark": {"type": "bar", "stroke": "#333", "strokeWidth": 0.6},
          "encoding": {
            "x": {"field": "q1", "type": "quantitative", "title": "Relative Abundance",
              "scale": {"domain": [-0.0369, 0.8017], "nice": false, "zero": false},
              "axis": {"values": [0,0.1,0.2,0.3,0.4,0.5,0.6,0.7,0.8], "labelExpr": "abs(datum.value*5-round(datum.value*5))<0.001 ? format(datum.value,'.1f') : ''", "gridWidth": {"condition": {"test": "abs(datum.value*5-round(datum.value*5))>0.001", "value": 0.6}, "value": 1}, "tickOpacity": {"condition": {"test": "abs(datum.value*5-round(datum.value*5))>0.001", "value": 0}, "value": 1}, "titlePadding": 3}},
            "x2": {"field": "q3"},
            "yOffset": {"field": "t", "type": "nominal", "scale": {"domain": ["low","intermediate","high"], "paddingInner": 0, "paddingOuter": 0.5}},
            "color": {"field": "t", "type": "nominal",
              "scale": {"domain": ["high","intermediate","low"], "range": ["#6aa88e","#f6d27c","#e6394f"]},
              "legend": null}
          }
        },
        {
          "data": {"name": "fs"},
          "mark": {"type": "tick", "size": 8, "thickness": 1.2, "color": "#1a1a1a"},
          "encoding": {
            "x": {"field": "md", "type": "quantitative", "title": "Relative Abundance",
              "scale": {"domain": [-0.0369, 0.8017], "nice": false, "zero": false},
              "axis": {"values": [0,0.1,0.2,0.3,0.4,0.5,0.6,0.7,0.8], "labelExpr": "abs(datum.value*5-round(datum.value*5))<0.001 ? format(datum.value,'.1f') : ''", "gridWidth": {"condition": {"test": "abs(datum.value*5-round(datum.value*5))>0.001", "value": 0.6}, "value": 1}, "tickOpacity": {"condition": {"test": "abs(datum.value*5-round(datum.value*5))>0.001", "value": 0}, "value": 1}, "titlePadding": 3}},
            "yOffset": {"field": "t", "type": "nominal", "scale": {"domain": ["low","intermediate","high"], "paddingInner": 0, "paddingOuter": 0.5}}
          }
        },
        {
          "data": {"name": "fp"},
          "transform": [{"flatten": ["v"]}, {"window": [{"op": "row_number", "as": "k"}], "groupby": ["c"]}],
          "mark": {"type": "circle", "size": 3.5, "color": "#4d4d4d", "opacity": 0.5},
          "encoding": {
            "x": {"field": "v", "type": "quantitative", "title": "Relative Abundance",
              "scale": {"domain": [-0.0369, 0.8017], "nice": false, "zero": false},
              "axis": {"values": [0,0.1,0.2,0.3,0.4,0.5,0.6,0.7,0.8], "labelExpr": "abs(datum.value*5-round(datum.value*5))<0.001 ? format(datum.value,'.1f') : ''", "gridWidth": {"condition": {"test": "abs(datum.value*5-round(datum.value*5))>0.001", "value": 0.6}, "value": 1}, "tickOpacity": {"condition": {"test": "abs(datum.value*5-round(datum.value*5))>0.001", "value": 0}, "value": 1}, "titlePadding": 3}},
            "yOffset": {"field": "k", "type": "nominal", "scale": {"paddingInner": 0, "paddingOuter": 3.1}}
          }
        }
      ]
    }
  ]
}
